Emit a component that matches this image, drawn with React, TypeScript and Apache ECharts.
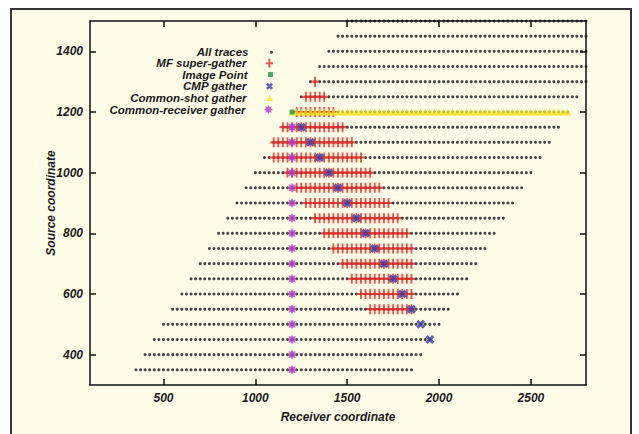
import React, { useEffect, useRef } from "react";
import * as echarts from "echarts";

// ---- Data ----
const sourceCoords = [350, 400, 450, 500, 550, 600, 650, 700, 750, 800, 850, 900, 950, 1000, 1050, 1100, 1150, 1200, 1250, 1300, 1350, 1400, 1450, 1500];
const firstReceiver = [350, 400, 450, 500, 550, 600, 650, 700, 750, 800, 850, 900, 950, 1000, 1050, 1100, 1150, 1200, 1250, 1300, 1350, 1400, 1450, 1500];
const lastReceiver = [1850, 1900, 1950, 2000, 2050, 2100, 2150, 2200, 2250, 2300, 2350, 2400, 2450, 2500, 2550, 2600, 2650, 2700, 2750, 2800, 2850, 2900, 2950, 3000];
const receiverSpacing = 25;

const mfSources = [550, 600, 650, 700, 750, 800, 850, 900, 950, 1000, 1050, 1100, 1150, 1200, 1250, 1300];
const mfFirst = [1625, 1575, 1525, 1475, 1425, 1375, 1325, 1275, 1225, 1175, 1100, 1100, 1150, 1225, 1275, 1325];
const mfLast = [1850, 1850, 1850, 1850, 1850, 1825, 1775, 1725, 1675, 1625, 1575, 1525, 1475, 1425, 1375, 1325];

const cmpSources = [450, 500, 550, 600, 650, 700, 750, 800, 850, 900, 950, 1000, 1050, 1100, 1150];
const cmpReceivers = [1950, 1900, 1850, 1800, 1750, 1700, 1650, 1600, 1550, 1500, 1450, 1400, 1350, 1300, 1250];

const crSources = [350, 400, 450, 500, 550, 600, 650, 700, 750, 800, 850, 900, 950, 1000, 1050, 1100, 1150];
const crReceivers = [1200, 1200, 1200, 1200, 1200, 1200, 1200, 1200, 1200, 1200, 1200, 1200, 1200, 1200, 1200, 1200, 1200];

const csSource = 1200;
const csFirst = 1200;
const csLast = 2700;

const imagePoint = [1200, 1200];

const xTicks = [500, 1000, 1500, 2000, 2500];
const yTicks = [400, 600, 800, 1000, 1200, 1400];

const seriesNames = ["All traces", "MF super-gather", "Image Point", "CMP gather", "Common-shot gather", "Common-receiver gather"];

// ---- helpers ----
function rowPoints(src: number, first: number, last: number, step: number) {
  const pts: number[][] = [];
  for (let r = first; r <= last + 1e-6; r += step) pts.push([r, src]);
  return pts;
}

function starPath(n: number, ro: number, ri: number) {
  let d = "";
  for (let i = 0; i < n * 2; i++) {
    const a = (Math.PI * i) / n - Math.PI / 2;
    const r = i % 2 === 0 ? ro : ri;
    const x = (ro + r * Math.cos(a)).toFixed(2);
    const y = (ro + r * Math.sin(a)).toFixed(2);
    d += (i === 0 ? "M" : "L") + x + "," + y;
  }
  return "path://" + d + "Z";
}

const PLUS = "path://M2.9,0H5.1V3.9H8V6.1H5.1V10H2.9V6.1H0V3.9H2.9Z";
const CROSS = "path://M0,2L2,0L4,2L6,0L8,2L6,4L8,6L6,8L4,6L2,8L0,6L2,4Z";
const STAR = starPath(8, 5, 3.1);
const TRI = "path://M4,0L8,7H0Z";
const SQUARE = "path://M0,0H6V6H0Z";

const COLORS = {
  all: "#141414",
  mf: "#e8302c",
  img: "#1f9a45",
  cmp: "#3a3aa6",
  cs: "#f2e21a",
  cr: "#b03cc6",
};

const FONT = "'Liberation Sans', Arial, sans-serif";
const CREAM = "#fffde8";

export default function App() {
  const ref = useRef<HTMLDivElement>(null);

  useEffect(() => {
    if (!ref.current) return;
    const chart = echarts.init(ref.current, null, { renderer: "svg" });

    const allData: number[][] = [];
    sourceCoords.forEach((s, i) => {
      allData.push(...rowPoints(s, firstReceiver[i], lastReceiver[i], receiverSpacing));
    });
    const mfData: number[][] = [];
    mfSources.forEach((s, i) => {
      mfData.push(...rowPoints(s, mfFirst[i], mfLast[i], receiverSpacing));
    });
    const cmpData = cmpSources.map((s, i) => [cmpReceivers[i], s]);
    const crData = crSources.map((s, i) => [crReceivers[i], s]);
    const csData = rowPoints(csSource, csFirst, csLast, receiverSpacing);
    const imgData = [[imagePoint[0], imagePoint[1]]];

    const txt = {
      fontFamily: FONT,
      fontWeight: "bold" as const,
      fontStyle: "italic" as const,
      fontSize: 12,
      color: "#1a1a1a",
    };

    const axisLine = { show: true, onZero: false, lineStyle: { color: "#111", width: 1.5 } };
    const fmt = (v: number) => String(v);

    const legendSpec = [
      { name: seriesNames[0], cy: 51.7, h: 3 },
      { name: seriesNames[1], cy: 62.7, h: 9 },
      { name: seriesNames[2], cy: 74, h: 5 },
      { name: seriesNames[3], cy: 85.7, h: 7 },
      { name: seriesNames[4], cy: 97.5, h: 6 },
      { name: seriesNames[5], cy: 109, h: 9 },
    ];
    const legendRight = 366;
    const boxW = 36;
    const legends = legendSpec.map((l) => ({
      data: [l.name],
      orient: "vertical" as const,
      align: "right" as const,
      padding: 0,
      right: legendRight,
      top: l.cy - 5.5,
      itemWidth: boxW,
      itemHeight: l.h,
      symbolKeepAspect: true,
      selectedMode: false,
      textStyle: { ...txt, fontSize: 11.5, lineHeight: 11 },
    }));

    chart.setOption({
      animation: false,
      backgroundColor: "#ffffff",
      graphic: [
        {
          type: "rect",
          z: -10,
          shape: { x: 11, y: 9, width: 620, height: 450 },
          style: { fill: CREAM, stroke: "#333", lineWidth: 2 },
        },
      ],
      grid: { left: 90, right: 53, top: 21, bottom: 49, containLabel: false },
      legend: legends,
      xAxis: [
        {
          type: "value",
          min: 100,
          max: 2800,
          position: "bottom",
          name: "Receiver coordinate",
          nameLocation: "middle",
          nameGap: 26,
          nameMoveOverlap: false,
          nameTextStyle: txt,
          axisLine,
          axisTick: { show: true, inside: true, length: 6, customValues: xTicks, lineStyle: { color: "#111", width: 1.5 } },
          axisLabel: { show: true, customValues: xTicks, margin: 7, formatter: fmt, ...txt },
          splitLine: { show: false },
        },
        {
          type: "value",
          min: 100,
          max: 2800,
          position: "top",
          axisLine,
          axisTick: { show: true, inside: true, length: 6, customValues: xTicks, lineStyle: { color: "#111", width: 1.5 } },
          axisLabel: { show: false },
          splitLine: { show: false },
        },
      ],
      yAxis: [
        {
          type: "value",
          min: 300,
          max: 1500,
          position: "left",
          name: "Source coordinate",
          nameLocation: "middle",
          nameGap: 33,
          nameMoveOverlap: false,
          nameRotate: 90,
          nameTextStyle: txt,
          axisLine,
          axisTick: { show: true, inside: true, length: 6, customValues: yTicks, lineStyle: { color: "#111", width: 1.5 } },
          axisLabel: { show: true, customValues: yTicks, margin: 7, formatter: fmt, ...txt },
          splitLine: { show: false },
        },
        {
          type: "value",
          min: 300,
          max: 1500,
          position: "right",
          axisLine,
          axisTick: { show: true, inside: true, length: 6, customValues: yTicks, lineStyle: { color: "#111", width: 1.5 } },
          axisLabel: { show: false },
          splitLine: { show: false },
        },
      ],
      series: [
        {
          name: seriesNames[0],
          type: "scatter",
          clip: true,
          symbol: "circle",
          symbolSize: 3,
          itemStyle: { color: COLORS.all },
          data: allData,
          z: 2,
        },
        {
          name: seriesNames[1],
          type: "scatter",
          clip: true,
          symbol: PLUS,
          symbolSize: [7, 10],
          itemStyle: { color: COLORS.mf },
          data: mfData,
          z: 3,
        },
        {
          name: seriesNames[3],
          type: "scatter",
          clip: true,
          symbol: CROSS,
          symbolSize: 9,
          itemStyle: { color: COLORS.cmp },
          data: cmpData,
          z: 4,
        },
        {
          name: seriesNames[4],
          type: "scatter",
          clip: true,
          symbol: TRI,
          symbolSize: [7, 7],
          itemStyle: { color: COLORS.cs },
          data: csData,
          z: 5,
        },
        {
          name: seriesNames[5],
          type: "scatter",
          clip: true,
          symbol: STAR,
          symbolSize: 10,
          itemStyle: { color: COLORS.cr },
          data: crData,
          z: 6,
        },
        {
          name: seriesNames[2],
          type: "scatter",
          clip: true,
          symbol: SQUARE,
          symbolSize: 5,
          itemStyle: { color: COLORS.img },
          data: imgData,
          z: 7,
        },
      ],
    });

    return () => chart.dispose();
  }, []);

  return <div ref={ref} style={{ position: "absolute", left: 0, top: 0, width: 639, height: 434 }} />;
}
